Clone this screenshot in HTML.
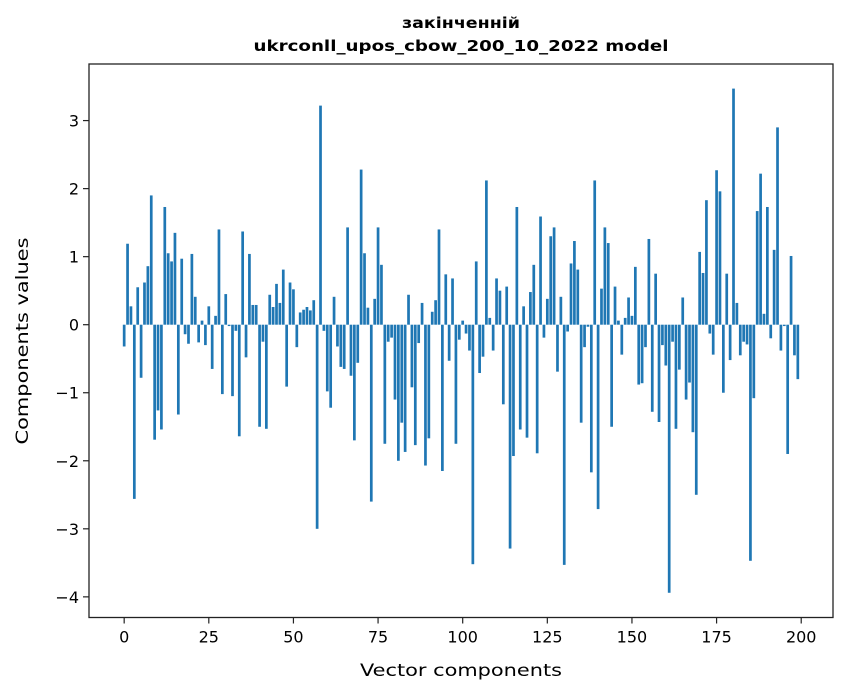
<!DOCTYPE html>
<html><head><meta charset="utf-8">
<style>
html,body{margin:0;padding:0;background:#fff;}
svg{display:block;font-family:"DejaVu Sans","Liberation Sans",sans-serif;}
</style></head>
<body>
<svg id="chart" width="847" height="696" viewBox="0 0 847 696" xmlns="http://www.w3.org/2000/svg">
<rect x="0" y="0" width="847" height="696" fill="#fff"/>
<text x="461" y="28" text-anchor="middle" font-size="15" font-weight="bold" textLength="118" lengthAdjust="spacingAndGlyphs">закінченній</text>
<text x="461" y="51" text-anchor="middle" font-size="15" font-weight="bold" textLength="415" lengthAdjust="spacingAndGlyphs">ukrconll_upos_cbow_200_10_2022 model</text>
<g id="bars"></g>
<g id="yticks"></g>
<g id="xticks"></g>
<rect x="89" y="64" width="744" height="553.5" fill="none" stroke="#222" stroke-width="1.3"/>
<text transform="translate(28,341) rotate(-90)" text-anchor="middle" font-size="17" textLength="207" lengthAdjust="spacingAndGlyphs">Components values</text>
<text x="461" y="676" text-anchor="middle" font-size="17" textLength="202" lengthAdjust="spacingAndGlyphs">Vector components</text>
</svg>
<script>
const values = [
-0.32,1.19,0.27,-2.56,0.55,-0.78,0.62,0.86,1.90,-1.69,-1.26,-1.54,1.73,1.05,0.93,1.35,-1.32,0.97,-0.14,-0.28,1.04,0.41,-0.26,0.06,-0.30,0.27,-0.65,0.13,1.40,-1.02,0.45,-0.02,-1.05,-0.09,-1.64,1.37,-0.48,1.04,0.29,0.29,-1.50,-0.25,-1.53,0.44,0.26,0.60,0.32,0.81,-0.91,0.62,
0.52,-0.33,0.18,0.22,0.26,0.21,0.36,-3.0,3.22,-0.09,-0.98,-1.22,0.41,-0.32,-0.62,-0.65,1.43,-0.75,-1.70,-0.56,2.28,1.05,0.25,-2.60,0.38,1.43,0.88,-1.75,-0.25,-0.19,-1.10,-2.0,-1.44,-1.87,0.44,-0.92,-1.77,-0.27,0.32,-2.07,-1.67,0.19,0.36,1.40,-2.15,0.74,-0.53,0.68,-1.75,-0.22,
0.06,-0.13,-0.38,-3.52,0.93,-0.71,-0.47,2.12,0.10,-0.38,0.68,0.50,-1.17,0.56,-3.29,-1.93,1.73,-1.54,0.27,-1.66,0.48,0.88,-1.89,1.59,-0.19,0.38,1.30,1.43,-0.69,0.41,-3.53,-0.10,0.90,1.23,0.81,-1.44,-0.33,-0.03,-2.17,2.12,-2.71,0.53,1.43,1.20,-1.50,0.56,0.06,-0.44,0.10,0.40,
0.13,0.85,-0.88,-0.86,-0.33,1.26,-1.28,0.75,-1.43,-0.30,-0.60,-3.94,-0.25,-1.53,-0.66,0.40,-1.10,-0.85,-1.58,-2.50,1.07,0.76,1.83,-0.13,-0.44,2.27,1.96,-1.0,0.75,-0.52,3.47,0.32,-0.45,-0.25,-0.29,-3.47,-1.08,1.67,2.22,0.16,1.73,-0.20,1.10,2.90,-0.38,-0.02,-1.90,1.01,-0.45,-0.80
];
const categories = values.map((v,i)=>i);
const yTickLabels = ["−4","−3","−2","−1","0","1","2","3"];
const yTickValues = [-4,-3,-2,-1,0,1,2,3];
const xTickValues = [0,25,50,75,100,125,150,175,200];
const xTickLabels = ["0","25","50","75","100","125","150","175","200"];

const NS="http://www.w3.org/2000/svg";
const X0=89,X1=833,Y0=64,Y1=617.5;
const xMin=-10.39,xMax=209.39;
function xs(v){return X0+(v-xMin)/(xMax-xMin)*(X1-X0);}
function ys(v){return 324.7-v*68.04;}
const bw=(xs(0.8)-xs(0));
const bars=document.getElementById('bars');
categories.forEach((c,i)=>{
  const v=values[i];
  const r=document.createElementNS(NS,'rect');
  
  
  const y=Math.min(ys(v),ys(0));
  r.setAttribute('x',xs(c)-bw/2);
  r.setAttribute('y',y);
  r.setAttribute('width',bw);
  r.setAttribute('height',Math.abs(ys(v)-ys(0)));
  r.setAttribute('fill','#1f77b4');
  bars.appendChild(r);
});
const yt=document.getElementById('yticks');
yTickValues.forEach((v,i)=>{
  const l=document.createElementNS(NS,'line');
  
  
  l.setAttribute('x1',X0-6);l.setAttribute('x2',X0);
  l.setAttribute('y1',ys(v));l.setAttribute('y2',ys(v));
  l.setAttribute('stroke','#222');l.setAttribute('stroke-width','1.2');
  yt.appendChild(l);
  const t=document.createElementNS(NS,'text');
  
  
  t.setAttribute('x',X0-10);t.setAttribute('y',ys(v)+6);
  t.setAttribute('text-anchor','end');t.setAttribute('font-size','16');
  t.textContent=yTickLabels[i];
  yt.appendChild(t);
});
const xt=document.getElementById('xticks');
xTickValues.forEach((v,i)=>{
  const l=document.createElementNS(NS,'line');
  
  
  l.setAttribute('x1',xs(v));l.setAttribute('x2',xs(v));
  l.setAttribute('y1',Y1);l.setAttribute('y2',Y1+6);
  l.setAttribute('stroke','#222');l.setAttribute('stroke-width','1.2');
  xt.appendChild(l);
  const t=document.createElementNS(NS,'text');
  
  
  t.setAttribute('x',xs(v));t.setAttribute('y',Y1+25);
  t.setAttribute('text-anchor','middle');t.setAttribute('font-size','16');
  t.textContent=xTickLabels[i];
  xt.appendChild(t);
});
</script>
</body></html>
